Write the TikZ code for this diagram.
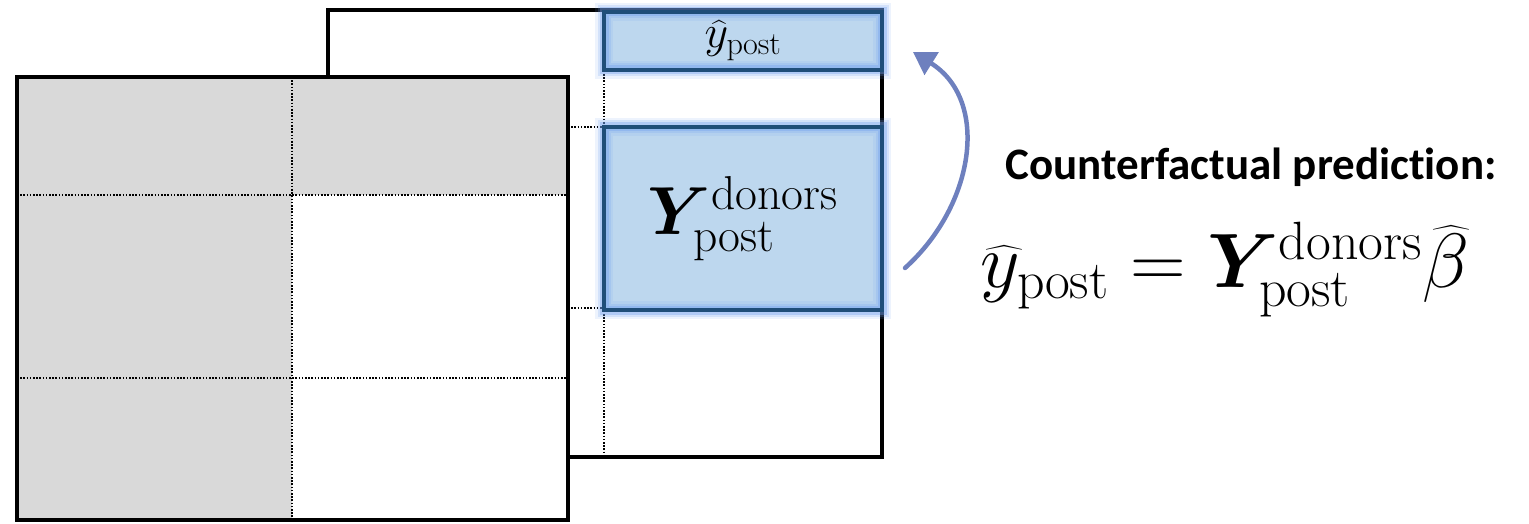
\RequirePackage{fix-cm}
\documentclass[tikz,border=0pt]{standalone}
\usepackage{amsmath,bm}
\usepackage{fontspec}
\newfontfamily\labelfont[Ligatures=NoCommon]{Carlito}
\usetikzlibrary{arrows.meta,decorations.pathmorphing}

\definecolor{cellgray}{HTML}{D9D9D9}
\definecolor{boxedge}{HTML}{1F4E79}
\definecolor{boxfill}{HTML}{BDD7EE}
\definecolor{boxglow}{HTML}{6F9FF0}
\definecolor{arrowblue}{HTML}{6E80BE}

\tikzset{
  frame/.style={draw=black, line width=4.5pt, line join=miter},
  gridline/.style={line width=1.6pt, dash pattern=on 1.6pt off 1.6pt},
  bluebox/.style={fill=boxfill, inner sep=0pt, outer sep=0pt},
  boxborder/.style={draw=boxedge, line width=4.5pt},
}

\begin{document}
\begin{tikzpicture}[x=1pt, y=-1pt]
\useasboundingbox (0,0) rectangle (1529,524);

% ---- back panel ----
\filldraw[fill=white, frame] (328,10) rectangle (882,457);
\draw[gridline] (604,10) -- (604,457);
\draw[gridline] (328,127) -- (882,127);
\draw[gridline] (328,308) -- (882,308);

% highlighted blocks of the back panel
\node[bluebox, minimum width=278pt, minimum height=58pt] (yhat) at (743,41)
  {\fontsize{46}{50}\selectfont$\widehat{y}_{\mathrm{post}}$};
\node[bluebox, minimum width=278pt, minimum height=183pt] (Ydon) at (743,218.5)
  {\fontsize{68}{74}\selectfont$\bm{Y}^{\mathrm{donors}}_{\mathrm{post}}$};

\foreach \b in {yhat,Ydon}{
  \foreach \w/\o in {18/0.12,13/0.2,9/0.35}
    \draw[boxglow, line width=\w pt, opacity=\o] (\b.south west) rectangle (\b.north east);
  \draw[boxborder] (\b.south west) rectangle (\b.north east);
}

% ---- front panel ----
\fill[white] (17,77) rectangle (568,520);
\fill[cellgray] (17,77) rectangle (568,195);
\fill[cellgray] (17,195) rectangle (292,520);
\draw[gridline] (292,77) -- (292,520);
\draw[gridline] (17,195) -- (568,195);
\draw[gridline] (17,378) -- (568,378);
\draw[frame] (17,77) rectangle (568,520);

% ---- prediction arrow ----
\coordinate (arrS) at (905,268);
\coordinate (arrE) at (913,52);
\draw[arrowblue, line width=4.5pt, line cap=round,
      -{Triangle[length=22pt,width=26pt]}]
  (arrS) .. controls (975,205) and (990,100) .. (arrE);

% ---- caption and formula ----
\node[font=\labelfont\bfseries\fontsize{45}{52}\selectfont] (cap) at (1251,167)
  {Counterfactual prediction:};
\node[anchor=base] (formula) at (1225,287)
  {\fontsize{77}{86}\selectfont$\widehat{y}_{\mathrm{post}} = \bm{Y}^{\mathrm{donors}}_{\mathrm{post}}\widehat{\beta}$};
\end{tikzpicture}
\end{document}
